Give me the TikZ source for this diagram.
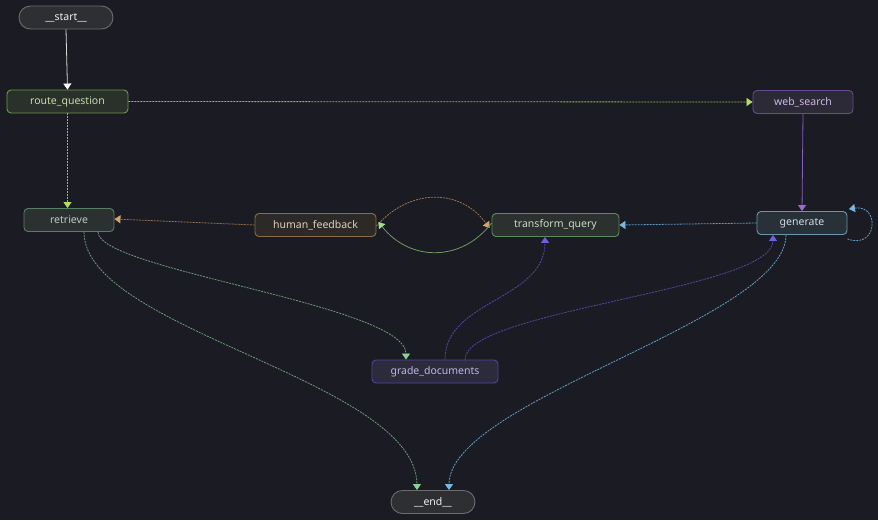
\documentclass[tikz,border=0pt]{standalone}
\usepackage{fontspec}
\setmainfont{Noto Sans}
\usetikzlibrary{arrows.meta}
\definecolor{bg}{HTML}{1B1C23}
\definecolor{pillfill}{HTML}{2E2F33}\definecolor{pilldraw}{HTML}{6B6B70}\definecolor{pilltext}{HTML}{F0F0F0}
\definecolor{rqfill}{HTML}{2A302A}\definecolor{rqdraw}{HTML}{6E9A46}\definecolor{rqtext}{HTML}{C5DCAE}
\definecolor{wsfill}{HTML}{2B2A36}\definecolor{wsdraw}{HTML}{654A8E}\definecolor{wstext}{HTML}{C9B8E6}
\definecolor{rtfill}{HTML}{2B3131}\definecolor{rtdraw}{HTML}{5A7C62}\definecolor{rttext}{HTML}{B9CBC0}
\definecolor{hffill}{HTML}{2D2926}\definecolor{hfdraw}{HTML}{8A6A48}\definecolor{hftext}{HTML}{DDD0C3}
\definecolor{tqfill}{HTML}{2C312F}\definecolor{tqdraw}{HTML}{5C8A5C}\definecolor{tqtext}{HTML}{C4DBC8}
\definecolor{gnfill}{HTML}{283038}\definecolor{gndraw}{HTML}{6A95AD}\definecolor{gntext}{HTML}{CFDDE8}
\definecolor{gdfill}{HTML}{2C2B3B}\definecolor{gddraw}{HTML}{4B45A0}\definecolor{gdtext}{HTML}{BBB6E6}
\definecolor{eLime}{HTML}{94C050}\definecolor{aLime}{HTML}{B2E060}
\definecolor{ePurp}{HTML}{8A5CC0}\definecolor{aPurp}{HTML}{9A6AD0}
\definecolor{eBrown}{HTML}{9A7350}\definecolor{aBrown}{HTML}{D9A06A}
\definecolor{eGreen}{HTML}{6F9A60}\definecolor{aGreen}{HTML}{9EE08A}
\definecolor{eBlue}{HTML}{5F9FC6}\definecolor{aBlue}{HTML}{7AB8E0}
\definecolor{eSage}{HTML}{6F9A78}\definecolor{aSage}{HTML}{8ED09A}
\definecolor{eIndigo}{HTML}{5048A8}\definecolor{aIndigo}{HTML}{6F60E0}
\definecolor{eWhite}{HTML}{D8D8D8}
\tikzset{
  box/.style={draw, rounded corners=4pt, line width=0.9pt, inner sep=0pt, minimum height=23pt, font=\fontsize{10.5}{12}\selectfont},
  pill/.style={box, rounded corners=11.5pt, fill=pillfill, draw=pilldraw, text=pilltext},
  edge/.style={line width=0.8pt},
  dsh/.style={edge, dash pattern=on 2pt off 1pt},
  tip/.style={-{Triangle[length=6pt,width=8pt,fill=#1,color=#1]}},
}
\begin{document}
\begin{tikzpicture}[x=1pt,y=-1pt]
\fill[bg] (0,0) rectangle (878,520);
\useasboundingbox (0,0) rectangle (878,520);
\node[pill, minimum width=94pt] (start) at (66,17.5) {\_\_start\_\_};
\node[box, fill=rqfill, draw=rqdraw, text=rqtext, minimum width=121pt] (rq) at (67.5,101.5) {route\_question};
\node[box, fill=wsfill, draw=wsdraw, text=wstext, minimum width=100pt] (ws) at (803,102) {web\_search};
\node[box, fill=rtfill, draw=rtdraw, text=rttext, minimum width=90pt] (rt) at (69,220) {retrieve};
\node[box, fill=hffill, draw=hfdraw, text=hftext, minimum width=121pt] (hf) at (315.5,225) {human\_feedback};
\node[box, fill=tqfill, draw=tqdraw, text=tqtext, minimum width=127pt] (tq) at (555.5,225) {transform\_query};
\node[box, fill=gnfill, draw=gndraw, text=gntext, minimum width=90pt] (gn) at (802,223) {generate};
\node[box, fill=gdfill, draw=gddraw, text=gdtext, minimum width=126pt] (gd) at (435,371.5) {grade\_documents};
\node[pill, minimum width=84pt] (end) at (433,502) {\_\_end\_\_};

% edges
\draw[edge, eWhite, tip=white] (start.south) -- (rq.north);
\draw[dsh, eLime, tip=aLime] (rq.east) -- (ws.west);
\draw[dsh, eLime, tip=aLime] (rq.south) -- (rq.south |- rt.north);
\draw[edge, ePurp, tip=aPurp] (ws.south) -- (gn.north);
\draw[dsh, eBrown, tip=aBrown] (hf.west) -- ([yshift=1pt]rt.east);
\draw[dsh, eBrown, tip=aBrown] ([yshift=-1pt]hf.east) .. controls (410,188) and (460,188) .. ([xshift=-2pt,yshift=-3pt]tq.west);
\draw[edge, eGreen, tip=aGreen] ([yshift=2pt]tq.west) .. controls (462,262) and (410,262) .. ([xshift=2pt,yshift=3pt]hf.east);
\draw[dsh, eBlue, tip=aBlue] (gn.west) -- (tq.east);
\draw[dsh, eBlue, tip=aBlue] ([yshift=-4pt]gn.south east) .. controls (878,250) and (880,204) .. ([xshift=1.5pt,yshift=2pt]gn.north east);
\draw[dsh, eSage, tip=aSage] ([xshift=29pt]rt.south) .. controls (98,270) and (406,305) .. ([xshift=-29pt]gd.north);
\draw[dsh, eSage, tip=aSage] ([xshift=15pt]rt.south) .. controls (84,330) and (416,380) .. ([xshift=-16pt]end.north);
\draw[dsh, eIndigo, tip=aIndigo] ([xshift=10pt]gd.north) .. controls (445,300) and (545,300) .. ([xshift=-10.5pt]tq.south);
\draw[dsh, eIndigo, tip=aIndigo] ([xshift=30pt]gd.north) .. controls (465,310) and (773,290) .. ([xshift=-29pt]gn.south);
\draw[dsh, eBlue, tip=aBlue] ([xshift=-16pt]gn.south) .. controls (786,320) and (449,400) .. ([xshift=16pt]end.north);
\end{tikzpicture}
\end{document}
